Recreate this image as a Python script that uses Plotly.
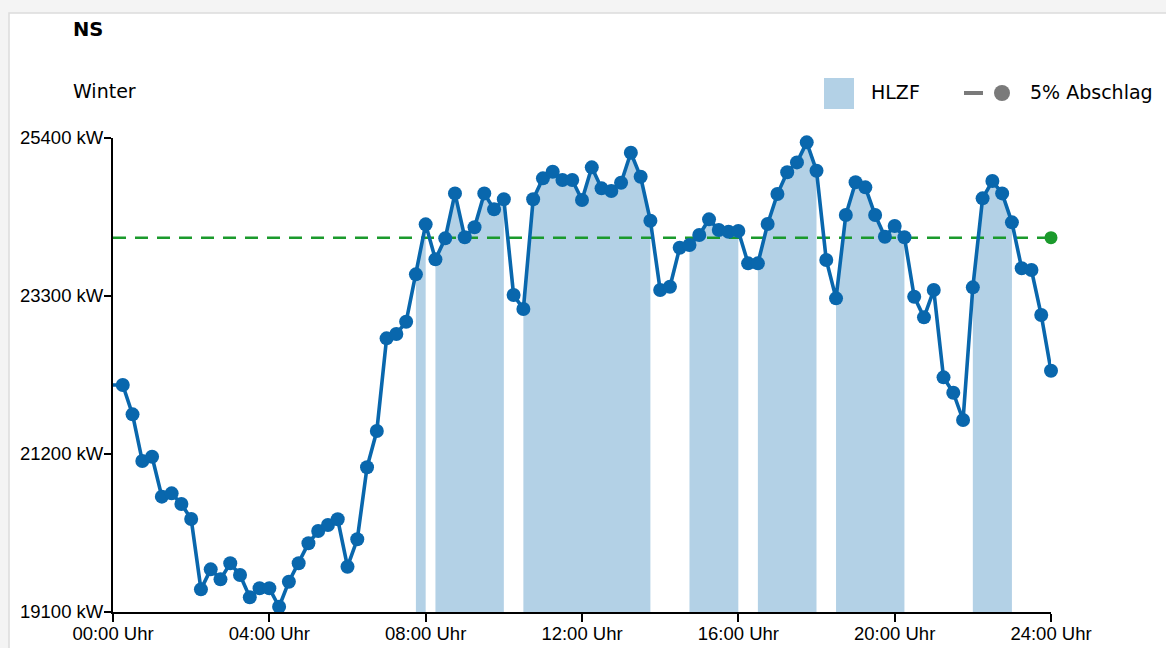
import plotly.graph_objects as go

# ---------------- data ----------------
hours = [i * 0.25 for i in range(97)]  # 00:00 .. 24:00, 15-min steps
load_kw = [
    22117, 22117, 21727, 21107, 21164, 20633, 20677, 20535, 20336, 19401,
    19667, 19534, 19747, 19592, 19295, 19415, 19415, 19170, 19503, 19747,
    20013, 20176, 20256, 20332, 19702, 20066, 21023, 21505, 22737, 22795,
    22958, 23588, 24252, 23787, 24066, 24664, 24080, 24213, 24664, 24452,
    24585, 23313, 23127, 24585, 24864, 24952, 24841, 24841, 24575, 25010,
    24731, 24695, 24805, 25204, 24885, 24300, 23379, 23423, 23942, 23977,
    24110, 24319, 24177, 24154, 24163, 23734, 23734, 24257, 24655, 24944,
    25076, 25342, 24965, 23778, 23269, 24376, 24811, 24744, 24376, 24088,
    24230, 24080, 23290, 23016, 23379, 22219, 22015, 21652, 23415, 24598,
    24828, 24664, 24279, 23668, 23645, 23047, 22307,
]
threshold_kw = 24075  # 5% Abschlag
hlzf_windows = [(7.75, 8.0), (8.25, 10.0), (10.5, 13.75), (14.75, 16.0),
                (16.5, 18.0), (18.5, 20.25), (22.0, 23.0)]
y_ticks = [19100, 21200, 23300, 25400]
x_ticks = [0, 4, 8, 12, 16, 20, 24]
x_tick_labels = ["00:00 Uhr", "04:00 Uhr", "08:00 Uhr", "12:00 Uhr",
                 "16:00 Uhr", "20:00 Uhr", "24:00 Uhr"]

# ---------------- styling ----------------
W, H = 1166, 648
L, R, T, B = 113, 1051, 138, 612   # plot area in screen pixels
BLUE = "#0967ad"
FILL = "#b3d1e6"
GREEN = "#1b9a2c"
TICK_FONT = dict(family="Liberation Sans, Arial, sans-serif", size=18.5, color="#000")
TXT_FONT = dict(family="DejaVu Sans, Verdana, sans-serif", size=19, color="#000")
TITLE_FONT = dict(family="DejaVu Sans, Verdana, sans-serif", size=19.5, color="#000")


def px(x):
    return (x - L) / (R - L)


def py(y):
    return (B - y) / (B - T)


fig = go.Figure()

# HLZF shaded windows (area under the curve)
for (a, b) in hlzf_windows:
    xs = [h for h in hours if a - 1e-9 <= h <= b + 1e-9]
    ys = [load_kw[hours.index(h)] for h in xs]
    fig.add_trace(go.Scatter(x=xs, y=ys, mode="none", fill="tozeroy",
                             fillcolor=FILL, showlegend=False, hoverinfo="skip"))

# 5% Abschlag threshold
fig.add_trace(go.Scatter(x=[0, 24], y=[threshold_kw, threshold_kw], mode="lines",
                         line=dict(color=GREEN, width=2.5, dash="13px,9px"),
                         showlegend=False, cliponaxis=False))
fig.add_trace(go.Scatter(x=[24], y=[threshold_kw], mode="markers",
                         marker=dict(color=GREEN, size=13, opacity=1),
                         showlegend=False, cliponaxis=False))

# Load curve
sizes = [0] + [14] * (len(hours) - 1)
fig.add_trace(go.Scatter(x=hours, y=load_kw, mode="lines+markers",
                         line=dict(color=BLUE, width=3.6),
                         marker=dict(color=BLUE, size=sizes, opacity=1,
                                     line=dict(width=0)),
                         showlegend=False, cliponaxis=False))

shapes = [
    # card
    dict(type="rect", xref="paper", yref="paper",
         x0=px(9), x1=px(1190), y0=py(700), y1=py(13),
         fillcolor="white", line=dict(color="#dcdcdc", width=1.5), layer="below"),
    # legend HLZF swatch
    dict(type="rect", xref="paper", yref="paper",
         x0=px(824), x1=px(854), y0=py(109), y1=py(78),
         fillcolor=FILL, line=dict(width=0)),
    # legend 5% Abschlag line + dot
    dict(type="line", xref="paper", yref="paper",
         x0=px(964), x1=px(983), y0=py(93), y1=py(93),
         line=dict(color="#7a7a7a", width=4)),
    dict(type="circle", xref="paper", yref="paper",
         x0=px(994), x1=px(1010), y0=py(101), y1=py(85),
         fillcolor="#7a7a7a", line=dict(width=0)),
]

annotations = [
    dict(text="<b>NS</b>", xref="paper", yref="paper", x=px(71), y=py(30),
         xanchor="left", yanchor="middle", showarrow=False, font=TITLE_FONT),
    dict(text="Winter", xref="paper", yref="paper", x=px(71), y=py(91),
         xanchor="left", yanchor="middle", showarrow=False, font=TXT_FONT),
    dict(text="HLZF", xref="paper", yref="paper", x=px(869), y=py(92),
         xanchor="left", yanchor="middle", showarrow=False, font=TXT_FONT),
    dict(text="5% Abschlag", xref="paper", yref="paper", x=px(1028), y=py(92),
         xanchor="left", yanchor="middle", showarrow=False, font=TXT_FONT),
]

fig.update_layout(
    width=W, height=H,
    margin=dict(l=L, r=W - R, t=T, b=H - B, pad=0),
    paper_bgcolor="#f4f4f4", plot_bgcolor="white",
    showlegend=False, hovermode=False,
    shapes=shapes, annotations=annotations,
    xaxis=dict(range=[0, 24], tickvals=x_ticks, ticktext=x_tick_labels,
               automargin=False, ticklabelstandoff=-4, fixedrange=True,
               showgrid=False, zeroline=False, showline=True,
               linecolor="black", linewidth=2, ticks="outside",
               ticklen=8, tickwidth=2, tickcolor="black", tickfont=TICK_FONT),
    yaxis=dict(range=[y_ticks[0], y_ticks[-1]], tickvals=y_ticks,
               ticktext=[f"{v} kW" for v in y_ticks],
               automargin=False, ticklabelstandoff=-3, fixedrange=True,
               showgrid=False, zeroline=False, showline=True,
               linecolor="black", linewidth=2, ticks="outside",
               ticklen=7, tickwidth=2, tickcolor="black", tickfont=TICK_FONT),
)

fig.write_html("out.html",
               config={"displayModeBar": False},
               post_script="document.body.style.margin='0';"
                           "document.body.style.background='#f4f4f4';")
